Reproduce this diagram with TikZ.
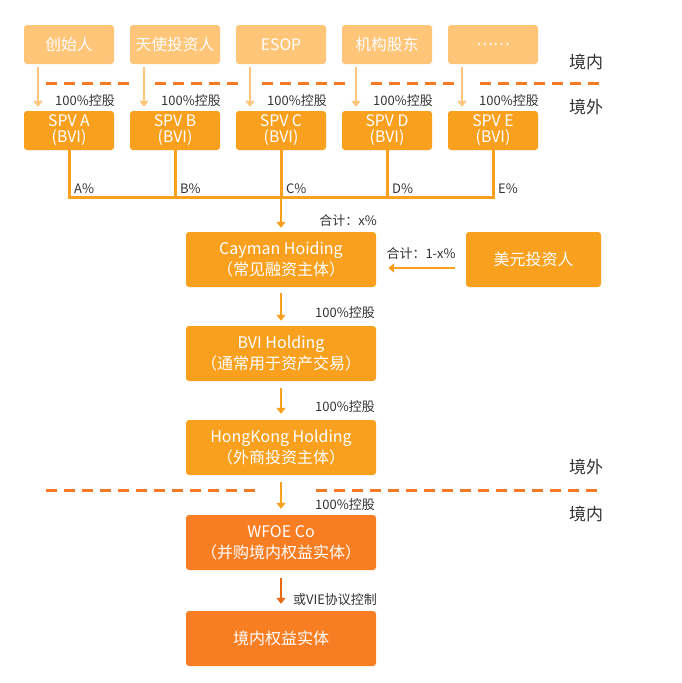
\documentclass[tikz,border=0pt]{standalone}
\usepackage{fontspec}
\setmainfont{Noto Sans CJK SC}
\usetikzlibrary{arrows.meta}
\definecolor{lightorange}{HTML}{FFC578}
\definecolor{midorange}{HTML}{F9A11F}
\definecolor{deeporange}{HTML}{F97D22}
\definecolor{darkarrow}{HTML}{EB6A0F}
\definecolor{linedash}{HTML}{F57A26}
\definecolor{labelgray}{HTML}{333333}

\tikzset{
  topbox/.style={fill=lightorange, rounded corners=3pt, minimum width=90pt, minimum height=39pt,
    inner sep=0pt, text=white, font=\fontsize{15.8}{16}\selectfont},
  spvbox/.style={topbox, fill=midorange, align=center},
  mainbox/.style={fill=midorange, rounded corners=3pt, minimum width=190pt, minimum height=55pt,
    inner sep=0pt, text=white, align=center, font=\fontsize{16}{21}\selectfont},
  lbl/.style={text=labelgray, inner sep=0pt, font=\fontsize{13}{13}\selectfont},
  region/.style={text=labelgray, inner sep=0pt, font=\fontsize{17}{17}\selectfont},
  lightarrow/.style={draw=lightorange, line width=1.5pt, -{Triangle[length=6pt,width=9pt]}},
  midarrow/.style={draw=midorange, line width=2pt, -{Triangle[length=6pt,width=9pt]}},
  darkarr/.style={draw=darkarrow, line width=2pt, -{Triangle[length=6pt,width=9pt]}},
  bus/.style={draw=midorange, line width=3pt},
  border/.style={draw=linedash, line width=3pt, dash pattern=on 11pt off 7pt},
}

\begin{document}
\begin{tikzpicture}[x=1pt,y=-1pt]
\useasboundingbox (0,0) rectangle (682,683);

% boundary lines
\foreach \a/\b in {46/131,155/238,262/347,371/456,480/600}
  \draw[border] (\a,83) -- (\b,83);
\draw[border] (46,490) -- (256,490);
\draw[border] (316,490) -- (598,490);

\node[region] (in1) at (586,62) {境内};
\node[region] (out1) at (586,107) {境外};
\node[region] (out2) at (586,467) {境外};
\node[region] (in2) at (586,514) {境内};

% shareholders and their SPVs
\coordinate (bus) at (281,197);
\foreach \name/\L/\txt [count=\i from 0] in {a/A/创始人, b/B/天使投资人, c/C/ESOP, d/D/机构股东, e/E/……}{
  \node[topbox] (src\name) at ({69+106*\i},44.5) {\txt};
  \node[spvbox] (spv\name) at ({69+106*\i},130.5) {SPV \L\\(BVI)};
  \draw[lightarrow] ([xshift=-31pt,yshift=-3pt]src\name.south) -- ([xshift=-31pt,yshift=4pt]spv\name.north);
  \node[lbl] (own\name) at ({85+106*\i},101) {100\%控股};
  \draw[bus] (spv\name.south) -- (spv\name.south |- bus);
  \node[lbl, anchor=west] (pct\name) at ([xshift=5pt]spv\name.south |- 0,189) {\L\%};
}
\draw[bus] ([xshift=-1.5pt]spva.south |- bus) -- ([xshift=1.5pt]spve.south |- bus);

% main chain
\node[mainbox] (cayman) at (281,259.5) {Cayman Hoiding\\（常见融资主体）};
\node[mainbox, minimum width=135pt] (usd) at (533.5,259.5) {美元投资人};
\node[mainbox] (bvi) at (281,353.5) {BVI Holding\\（通常用于资产交易）};
\node[mainbox] (hk) at (281,447.5) {HongKong Holding\\（外商投资主体）};
\node[mainbox, fill=deeporange] (wfoe) at (281,542.5) {WFOE Co\\（并购境内权益实体）};
\node[mainbox, fill=deeporange] (equity) at (281,638.5) {境内权益实体};

\draw[midarrow] (bus) -- ([yshift=4pt]cayman.north);
\node[lbl] (sumx) at (348,221) {合计：x\%};
\draw[midarrow] ([xshift=-11pt,yshift=-8.5pt]usd.west) -- ([xshift=12pt,yshift=-8.5pt]cayman.east);
\node[lbl] (sumrest) at (421,254) {合计：1-x\%};

\draw[midarrow] ([yshift=-6pt]cayman.south) -- ([yshift=5pt]bvi.north);
\node[lbl] (ownbvi) at (345,313) {100\%控股};
\draw[midarrow] ([yshift=-7pt]bvi.south) -- ([yshift=6pt]hk.north);
\node[lbl] (ownhk) at (345,407) {100\%控股};
\draw[midarrow] ([yshift=-7pt]hk.south) -- ([yshift=6pt]wfoe.north);
\node[lbl] (ownwfoe) at (345,505) {100\%控股};
\draw[darkarr] ([yshift=-8pt]wfoe.south) -- ([yshift=7pt]equity.north);
\node[lbl] (vie) at (335,600) {或VIE协议控制};
\end{tikzpicture}
\end{document}
